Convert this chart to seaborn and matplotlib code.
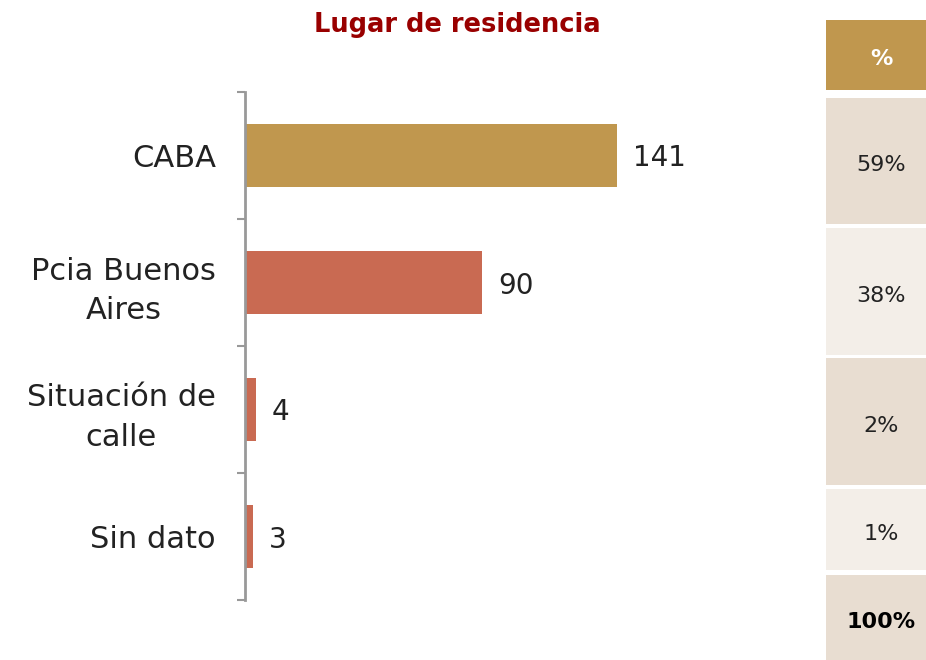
import matplotlib
matplotlib.use("Agg")
import matplotlib.pyplot as plt
from matplotlib.patches import Rectangle
import pandas as pd
import seaborn as sns

# Datos
categorias = ['CABA', 'Pcia Buenos\nAires', 'Situación de\ncalle', 'Sin dato']
valores = [141, 90, 4, 3]
porcentajes = ['59%', '38%', '2%', '1%']
total = '100%'
colores = ['#C0974E', '#C96A52', '#C96A52', '#C96A52']

sns.set_theme(style="white")
plt.rcParams['font.family'] = ['DejaVu Sans']

df = pd.DataFrame({'categoria': categorias, 'valor': valores})

fig = plt.figure(figsize=(9.26, 6.6), dpi=100)
ax = fig.add_axes([245 / 926, 1 - 600 / 660, 554 / 926, 508 / 660])

sns.barplot(data=df, y='categoria', x='valor', hue='categoria',
            palette=colores, orient='h', width=0.5, legend=False,
            saturation=1, linewidth=0, ax=ax)

for i, v in enumerate(valores):
    ax.text(v + 6, i, str(v), va='center_baseline', ha='left', fontsize=20, color='#222222')

ax.set_xlim(0, 210)
ax.set_ylim(len(categorias) - 0.5, -0.5)
ax.set_xlabel('')
ax.set_ylabel('')
ax.set_xticks([])
ax.set_yticks(range(len(categorias)))
ax.set_yticklabels(categorias, fontsize=22, color='#222222',
                   multialignment='center', linespacing=1.45)
ax.set_yticks([i - 0.5 for i in range(len(categorias) + 1)], minor=True)
ax.tick_params(axis='y', which='major', length=0, pad=21)
ax.tick_params(axis='y', which='minor', length=6, width=1.5, color='#999999', left=True)
for s in ['top', 'right', 'bottom']:
    ax.spines[s].set_visible(False)
ax.spines['left'].set_color('#999999')
ax.spines['left'].set_linewidth(2)

fig.text(457 / 926, 1 - 25 / 660, 'Lugar de residencia', ha='center', va='center',
         fontsize=18.5, fontweight='bold', color='#990000')

# Tabla de porcentajes
x0, w = 826 / 926, 100 / 926
filas = [(20, 90, '%', '#C0974E', 'white', 'bold')]
cortes = [(98, 224), (228, 355), (358, 485), (489, 570)]
fondos = ['#E8DDD1', '#F3EEE8', '#E8DDD1', '#F3EEE8']
for (a, b), p, f in zip(cortes, porcentajes, fondos):
    filas.append((a, b, p, f, '#222222', 'normal'))
filas.append((575, 660, total, '#E8DDD1', 'black', 'bold'))
for a, b, t, fc, tc, fw in filas:
    fig.patches.append(Rectangle((x0, 1 - b / 660), w, (b - a) / 660,
                                 transform=fig.transFigure, facecolor=fc,
                                 edgecolor='none', zorder=0))
    fig.text(881 / 926, 1 - (a + b) / 2 / 660 - 4 / 660, t, ha='center', va='center',
             fontsize=16, color=tc, fontweight=fw)

fig.savefig('out.png', dpi=100)
